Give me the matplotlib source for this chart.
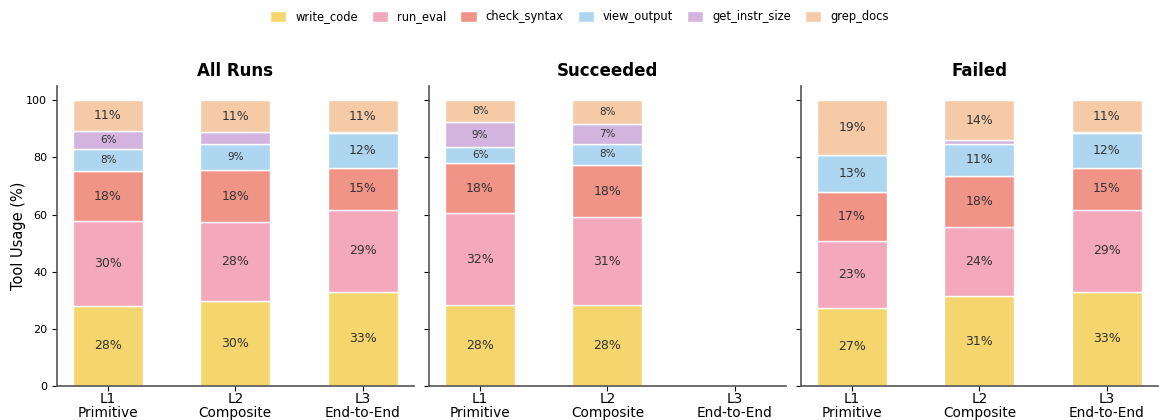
import matplotlib
matplotlib.use("Agg")
import matplotlib.pyplot as plt
import numpy as np

levels = ["L1\nPrimitive", "L2\nComposite", "L3\nEnd-to-End"]
panels = ["All Runs", "Succeeded", "Failed"]
tools = ["write_code", "run_eval", "check_syntax", "view_output", "get_instr_size", "grep_docs"]
colors = ["#F4D56E", "#F4A8BC", "#F09488", "#AED6F1", "#D2B4DE", "#F5CBA7"]

# Share of tool calls (%) per level, one list per tool: [L1, L2, L3]
all_runs = {
    "write_code":     [28.0, 29.7, 33.0],
    "run_eval":       [29.7, 27.6, 28.6],
    "check_syntax":   [17.6, 18.2, 14.8],
    "view_output":    [7.7, 9.3, 12.3],
    "get_instr_size": [6.3, 4.1, 0.2],
    "grep_docs":      [10.7, 11.1, 11.1],
}
succeeded = {
    "write_code":     [28.3, 28.3, 0.0],
    "run_eval":       [32.1, 30.7, 0.0],
    "check_syntax":   [17.7, 18.4, 0.0],
    "view_output":    [5.6, 7.5, 0.0],
    "get_instr_size": [8.7, 7.0, 0.0],
    "grep_docs":      [7.6, 8.1, 0.0],
}
failed = {
    "write_code":     [27.4, 31.4, 33.0],
    "run_eval":       [23.4, 24.4, 28.6],
    "check_syntax":   [17.1, 17.8, 14.8],
    "view_output":    [13.0, 11.3, 12.3],
    "get_instr_size": [0.0, 1.1, 0.2],
    "grep_docs":      [19.1, 14.0, 11.1],
}
panel_data = [all_runs, succeeded, failed]

fig, axes = plt.subplots(1, 3, figsize=(11.59, 4.2), dpi=100, sharey=True)
fig.subplots_adjust(left=0.049, right=0.999, bottom=0.081, top=0.795, wspace=0.042)

x = np.arange(len(levels))
width = 0.55
handles = []
for ax, title, data in zip(axes, panels, panel_data):
    bottom = np.zeros(len(levels))
    for tool, color in zip(tools, colors):
        vals = np.array(data[tool])
        bars = ax.bar(x, vals, width, bottom=bottom, color=color,
                      edgecolor="white", linewidth=1.0, label=tool)
        for xi, v, b in zip(x, vals, bottom):
            if v >= 5:
                ax.text(xi, b + v / 2, f"{v:.0f}%", ha="center", va="center",
                        fontsize=9 if v >= 10 else 7.5, color="#333333")
        bottom += vals
        if ax is axes[0]:
            handles.append(bars)
    ax.set_title(title, fontsize=12, fontweight="bold", pad=7)
    ax.set_xticks(x)
    ax.set_xticklabels(levels, fontsize=9.8, linespacing=1.0)
    ax.tick_params(axis="x", pad=1)
    ax.set_ylim(0, 105)
    ax.set_yticks([0, 20, 40, 60, 80, 100])
    ax.tick_params(axis="y", labelsize=8)
    for side in ("top", "right"):
        ax.spines[side].set_visible(False)
    for side in ("left", "bottom"):
        ax.spines[side].set_color("#555555")
        ax.spines[side].set_linewidth(1.2)

axes[0].set_ylabel("Tool Usage (%)", fontsize=10.5)
axes[0].yaxis.set_label_coords(-0.085, 0.5)

fig.legend(handles, tools, loc="upper center", ncol=6, frameon=False,
           fontsize=8.3, bbox_to_anchor=(0.5, 1.0), handlelength=1.4,
           handleheight=1.1, handletextpad=0.8, columnspacing=1.2)

fig.savefig("out.png", dpi=100)
